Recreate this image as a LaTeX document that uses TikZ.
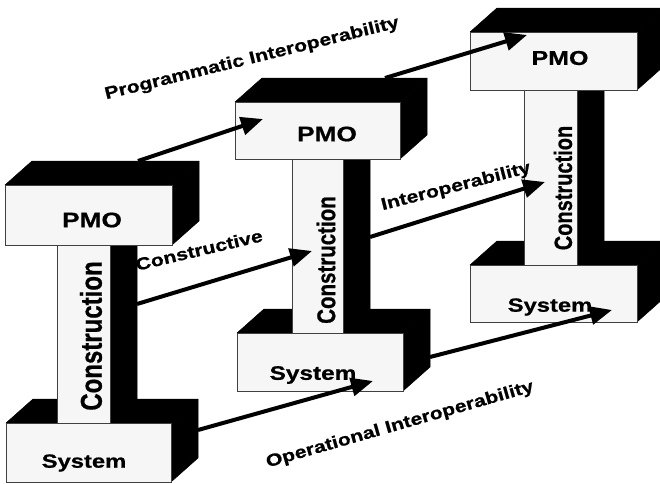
\documentclass[tikz,border=0pt]{standalone}
\usepackage{fontspec}
\setmainfont{Liberation Sans}
\newfontfamily\wf[FakeStretch=1.25,BoldFeatures={FakeBold=0.8}]{Liberation Sans}
\newfontfamily\vf[BoldFeatures={FakeBold=0.8}]{Liberation Sans}
\usetikzlibrary{arrows.meta}
\newcommand\vstrtxt[1]{\scalebox{1}[1.25]{#1}}
\newcommand\slab[4]{%
  \filldraw[dark] (#1,#2) -- (#1+27,#2-24) -- (#3+27,#2-24) -- (#3,#2) -- cycle;
  \filldraw[dark] (#3,#2) -- (#3+27,#2-24) -- (#3+27,#4-24) -- (#3,#4) -- cycle;
  \filldraw[face] (#1,#2) rectangle (#3,#4);}
\newcommand\webpost[4]{%
  \filldraw[dark] (#3,#2) -- (#3+27,#2-24) -- (#3+27,#4-24) -- (#3,#4) -- cycle;
  \filldraw[face] (#1,#2) rectangle (#3,#4);}
\begin{document}
\begin{tikzpicture}[x=1pt,y=-1pt,
  face/.style={fill=gray!7, draw=black!75, line width=0.7pt},
  dark/.style={fill=black, draw=black, line width=0.5pt, line join=round},
  conn/.style={line width=4pt, black, -{Triangle[length=22pt,width=18pt]}},
  lbl/.style={font=\wf\bfseries\fontsize{17}{17}\selectfont, inner sep=0pt},
  boxtxt/.style={inner sep=0pt}]
\useasboundingbox (0,0) rectangle (660,483);
\fill[white] (0,0) rectangle (660,483);
% left group
\slab{6}{423}{171}{482}
\webpost{57}{245}{110}{423}
\slab{5}{185}{172}{245}
% middle group
\slab{237}{333}{403}{391}
\webpost{292}{159}{343}{333}
\slab{235}{102}{400}{159}
% right group
\slab{470}{265}{637}{322}
\webpost{524}{90}{577}{265}
\slab{470}{32}{637}{90}
% box texts
\node[boxtxt, font=\wf\bfseries\fontsize{21}{21}\selectfont] (pmoL) at (92,220) {PMO};
\node[boxtxt, font=\wf\bfseries\fontsize{21}{21}\selectfont] (pmoM) at (327,134) {PMO};
\node[boxtxt, font=\wf\bfseries\fontsize{20}{20}\selectfont] (pmoR) at (560,58) {PMO};
\node[boxtxt, font=\wf\bfseries\fontsize{19}{19}\selectfont] (sysL) at (84,463) {System};
\node[boxtxt, font=\wf\bfseries\fontsize{19.5}{19.5}\selectfont] (sysM) at (313,375) {System};
\node[boxtxt, font=\wf\bfseries\fontsize{19}{19}\selectfont] (sysR) at (550,307) {System};
\node[boxtxt, rotate=90, font=\vf\bfseries\fontsize{24}{24}\selectfont] (conL) at (91,336) {\vstrtxt{Construction}};
\node[boxtxt, rotate=90, font=\vf\bfseries\fontsize{20.5}{20.5}\selectfont] (conM) at (326,260) {\vstrtxt{Construction}};
\node[boxtxt, rotate=90, font=\vf\bfseries\fontsize{20}{20}\selectfont] (conR) at (563,188) {\vstrtxt{Construction}};
% connector end points
\coordinate (p1s) at (138,161); \coordinate (p1e) at (263,119);
\coordinate (p2s) at (385,78);  \coordinate (p2e) at (527,35);
\coordinate (c1s) at (137,304); \coordinate (c1e) at (312,251);
\coordinate (c2s) at (370,237); \coordinate (c2e) at (545,182);
\coordinate (o1s) at (198,430); \coordinate (o1e) at (373,381);
\coordinate (o2s) at (430,357); \coordinate (o2e) at (612,310);
\draw[conn] (p1s) -- (p1e);
\draw[conn] (p2s) -- (p2e);
\draw[conn] (c1s) -- (c1e);
\draw[conn] (c2s) -- (c2e);
\draw[conn] (o1s) -- (o1e);
\draw[conn] (o2s) -- (o2e);
% labels
\node[lbl, rotate=13.8] (lprog) at (252,59) {Programmatic Interoperability};
\node[lbl, rotate=13.3] (lcons) at (199,250) {Constructive};
\node[lbl, rotate=14.3] (lint) at (456,187) {Interoperability};
\node[lbl, rotate=16] (lop) at (400,425) {Operational Interoperability};
\end{tikzpicture}
\end{document}
